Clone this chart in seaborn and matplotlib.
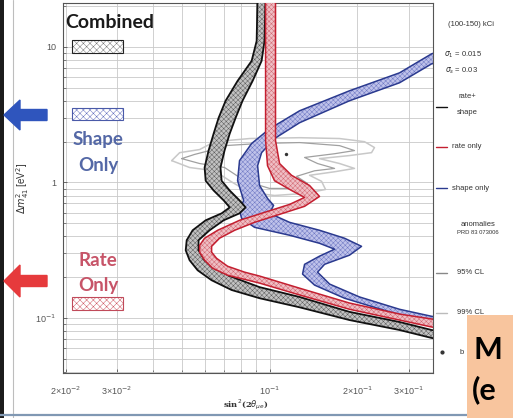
import numpy as np
import matplotlib
matplotlib.use("Agg")
import matplotlib.pyplot as plt
from matplotlib.patches import Rectangle, FancyArrow
from matplotlib.lines import Line2D
from matplotlib.ticker import NullFormatter
import seaborn as sns

# ---------------- exclusion bands (two edges each) ----------------
# rate + shape combined
comb_a_x = [0.0910, 0.0903, 0.0868, 0.0777, 0.0707, 0.0669, 0.0643, 0.0618, 0.0599, 0.0604,
            0.0643, 0.0696, 0.0730, 0.0685, 0.0604, 0.0545, 0.0520, 0.0516, 0.0532, 0.0567,
            0.0633, 0.0741, 0.0924, 0.1267, 0.1879, 0.2787, 0.3588, 0.484]
comb_a_y = [25, 11.07, 7.89, 5.62, 4.01, 3.00, 2.29, 1.72, 1.29, 1.03,
            0.873, 0.738, 0.655, 0.592, 0.526, 0.444, 0.375, 0.316, 0.267, 0.225,
            0.190, 0.161, 0.140, 0.120, 0.0966, 0.0816, 0.0713, 0.0633]
comb_b_x = [0.0969, 0.0961, 0.0939, 0.0875, 0.0808, 0.0765, 0.0730, 0.0701, 0.0679, 0.0685,
            0.0730, 0.0789, 0.0828, 0.0789, 0.0696, 0.0623, 0.0571, 0.0571, 0.0599, 0.0648,
            0.0730, 0.0924, 0.1267, 0.1879, 0.2787, 0.3588, 0.484]
comb_b_y = [25, 11.07, 7.89, 5.62, 4.01, 3.00, 2.29, 1.72, 1.29, 1.03,
            0.873, 0.738, 0.655, 0.592, 0.526, 0.444, 0.375, 0.316, 0.267, 0.233,
            0.204, 0.169, 0.143, 0.111, 0.0935, 0.0816, 0.0738]

# rate only
rate_a_x = [0.0969, 0.0969, 0.0984, 0.1040, 0.1189, 0.1318, 0.1171, 0.0961, 0.0789, 0.0664,
            0.0599, 0.0576, 0.0576, 0.0599, 0.0638, 0.0718, 0.0924, 0.1267, 0.1879, 0.2787,
            0.3588, 0.484]
rate_a_y = [25, 2.04, 1.33, 1.03, 0.873, 0.776, 0.689, 0.602, 0.526, 0.444,
            0.388, 0.344, 0.306, 0.267, 0.233, 0.207, 0.181, 0.148, 0.116, 0.0966,
            0.0859, 0.0776]
rate_b_x = [0.1048, 0.1048, 0.1082, 0.1189, 0.1371, 0.1483, 0.1318, 0.1082, 0.0888, 0.0759,
            0.0674, 0.0633, 0.0633, 0.0658, 0.0718, 0.0821, 0.0924, 0.1267, 0.1879, 0.2787,
            0.3588, 0.484]
rate_b_y = [25, 2.04, 1.38, 1.13, 0.950, 0.789, 0.667, 0.582, 0.508, 0.444,
            0.388, 0.338, 0.306, 0.276, 0.241, 0.218, 0.204, 0.166, 0.129, 0.107,
            0.0984, 0.0888]

# shape only
shape_a_x = [0.484, 0.3588, 0.2787, 0.1879, 0.1267, 0.1000, 0.0868, 0.0789, 0.0777, 0.0815,
             0.0789, 0.0802, 0.0888, 0.1171, 0.1483, 0.1670, 0.1483, 0.1318, 0.1297, 0.1426,
             0.1806, 0.2576, 0.3588, 0.484]
shape_a_y = [11.07, 8.89, 6.44, 4.75, 3.38, 2.49, 1.94, 1.45, 1.03, 0.738,
             0.622, 0.544, 0.467, 0.408, 0.356, 0.322, 0.286, 0.249, 0.211, 0.175,
             0.140, 0.111, 0.0919, 0.0844]
shape_b_x = [0.484, 0.3588, 0.2787, 0.1879, 0.1267, 0.1040, 0.0939, 0.0910, 0.0924, 0.0984,
             0.1032, 0.1000, 0.1171, 0.1483, 0.1806, 0.2066, 0.1879, 0.1543, 0.1460, 0.1606,
             0.2033, 0.2787, 0.3588, 0.484]
shape_b_y = [8.59, 7.50, 5.44, 4.01, 2.76, 2.11, 1.66, 1.33, 0.950, 0.763,
             0.678, 0.592, 0.508, 0.444, 0.388, 0.338, 0.291, 0.249, 0.218, 0.178,
             0.143, 0.116, 0.103, 0.0935]

# reactor-anomaly allowed regions
cl99_x = [0.0462, 0.0492, 0.0576, 0.0648, 0.0854, 0.1267, 0.1737, 0.2115, 0.2288, 0.2235,
          0.1879, 0.1483, 0.1737, 0.1954, 0.1670, 0.1371, 0.1507, 0.1555, 0.1318, 0.1040,
          0.0854, 0.0730, 0.0648, 0.0532]
cl99_y = [1.45, 1.66, 1.75, 2.00, 2.11, 2.14, 2.11, 2.00, 1.81, 1.66,
          1.58, 1.50, 1.38, 1.27, 1.20, 1.13, 1.02, 0.888, 0.830, 0.802,
          0.844, 1.03, 1.22, 1.29]
cl95_x = [0.0500, 0.0553, 0.0623, 0.0701, 0.0924, 0.1267, 0.1737, 0.1954, 0.1670, 0.1318,
          0.1460, 0.1670, 0.1426, 0.1237, 0.1349, 0.1267, 0.1000, 0.0821, 0.0701, 0.0576]
cl95_y = [1.50, 1.61, 1.72, 1.87, 1.94, 1.97, 1.87, 1.72, 1.63, 1.53,
          1.38, 1.27, 1.22, 1.11, 0.983, 0.904, 0.904, 1.03, 1.29, 1.38]
bestfit_x = [0.114]
bestfit_y = [1.63]

xtick_vals = [0.02, 0.03, 0.1, 0.2, 0.3]
xtick_labels = ["2×10$^{-2}$", "3×10$^{-2}$", "10$^{-1}$", "2×10$^{-1}$", "3×10$^{-1}$"]
ytick_vals = [0.1, 1, 10]
ytick_labels = ["10$^{-1}$", "1", "10"]

# ---------------- figure ----------------
W, H = 513, 418
sns.set_theme(style="white")
plt.rcParams["font.family"] = ["Liberation Sans", "DejaVu Sans"]
plt.rcParams["hatch.linewidth"] = 0.35

fig = plt.figure(figsize=(W / 100, H / 100), dpi=100)
fig.patch.set_facecolor("white")


def fx(px):
    return px / W


def fy(py):
    return 1 - py / H


ax = fig.add_axes([fx(63), fy(373), (433 - 63) / W, (373 - 3) / H])
ax.set_xscale("log")
ax.set_yscale("log")
ax.set_facecolor("white")


def closed(v):
    return list(v) + list(v[:1])


# anomaly contours
sns.lineplot(x=closed(cl99_x), y=closed(cl99_y), sort=False, estimator=None,
             color="#c8c8c8", linewidth=1.1, ax=ax, zorder=1)
sns.lineplot(x=closed(cl95_x), y=closed(cl95_y), sort=False, estimator=None,
             color="#a0a0a0", linewidth=0.9, ax=ax, zorder=1)


def band(xa, ya, xb, yb, face, hatch_col, edge, lw, z):
    px = list(xa) + list(xb)[::-1]
    py = list(ya) + list(yb)[::-1]
    ax.fill(px, py, facecolor=face, edgecolor=hatch_col, hatch="xxxxxxx",
            linewidth=0, zorder=z)
    for xs, ys in ((xa, ya), (xb, yb)):
        sns.lineplot(x=xs, y=ys, sort=False, estimator=None, color=edge,
                     linewidth=lw, ax=ax, zorder=z + 0.5)


band(shape_a_x, shape_a_y, shape_b_x, shape_b_y, "#bfc2ea", "#6f79c4", "#2b3a8f", 1.1, 2)
band(comb_a_x, comb_a_y, comb_b_x, comb_b_y, "#c2c2c2", "#5e5e5e", "#111111", 1.3, 3)
band(rate_a_x, rate_a_y, rate_b_x, rate_b_y, "#efbfc5", "#d26872", "#c41f30", 1.1, 4)

sns.scatterplot(x=bestfit_x, y=bestfit_y, color="#333333", s=6, linewidth=0, ax=ax, zorder=6)

ax.set_xlim(0.0196, 0.363)
ax.set_ylim(0.0393, 21.1)
ax.set_xticks(xtick_vals, labels=xtick_labels)
ax.set_yticks(ytick_vals, labels=ytick_labels)
ax.xaxis.set_minor_formatter(NullFormatter())
ax.yaxis.set_minor_formatter(NullFormatter())
ax.set_xlabel("")
ax.set_ylabel("")
ax.grid(True, which="both", color="#c9c9c9", linewidth=0.6)
ax.set_axisbelow(True)
ax.tick_params(which="both", direction="in", color="#555555", labelcolor="#555555",
               labelsize=6.5, bottom=True, left=True)
ax.tick_params(which="major", length=3, width=0.6)
ax.tick_params(which="minor", length=2, width=0.5)
ax.tick_params(axis="x", pad=8)
ax.tick_params(axis="y", pad=5)
for s in ax.spines.values():
    s.set_color("#555555")
    s.set_linewidth(0.8)

# axis titles
fig.text(fx(23), fy(188), r"$\Delta m^2_{41}$ [eV$^2$]", rotation=90, ha="center",
         va="center", fontsize=7, color="#333333")
fig.text(fx(246), fy(405), r"sin$^2$(2$\theta_{\mu e}$)", ha="center", va="center",
         fontsize=6, color="#333333", family="DejaVu Serif", fontweight="bold")

# in-plot labels
fig.text(fx(65), fy(22), "Combined", ha="left", va="center", fontsize=14,
         fontweight="bold", family="Lato", color="#1a1a1a")
fig.text(fx(98), fy(140), "Shape", ha="center", va="center", fontsize=13.5,
         family="Lato", color="#5468a6", fontweight="bold")
fig.text(fx(98), fy(165), "Only", ha="center", va="center", fontsize=13.5,
         family="Lato", color="#5468a6", fontweight="bold")
fig.text(fx(98), fy(260), "Rate", ha="center", va="center", fontsize=13.5,
         family="Lato", color="#c75468", fontweight="bold")
fig.text(fx(98), fy(285), "Only", ha="center", va="center", fontsize=13.5,
         family="Lato", color="#c75468", fontweight="bold")

for (y0, y1, ec, hc) in ((40, 53, "#222222", "#777777"),
                         (108, 120, "#4a5aa8", "#6470bf"),
                         (297, 310, "#c04a5a", "#cf5a66")):
    fig.add_artist(Rectangle((fx(72), fy(y1)), (123 - 72) / W, (y1 - y0) / H,
                             transform=fig.transFigure, facecolor="white",
                             edgecolor=hc, hatch="xxxxx", linewidth=0, zorder=4))
    fig.add_artist(Rectangle((fx(72), fy(y1)), (123 - 72) / W, (y1 - y0) / H,
                             transform=fig.transFigure, facecolor="none",
                             edgecolor=ec, linewidth=0.8, zorder=4.1))

# side panel legend
small = dict(fontsize=5.5, color="#333333", family="Liberation Sans", va="center")
fig.text(fx(471), fy(25), "(100-150) kCi", ha="center", **small)
fig.text(fx(463), fy(55), r"$\sigma_1$ = 0.015", ha="center", **small)
fig.text(fx(462), fy(71), r"$\sigma_s$ = 0.03", ha="center", **small)
for (yy, col) in ((107, "#111111"), (147, "#c41f30"), (188, "#2b3a8f"),
                  (273, "#888888"), (313, "#bbbbbb")):
    fig.add_artist(Line2D([fx(436), fx(447)], [fy(yy), fy(yy)], color=col, lw=1.0,
                          transform=fig.transFigure))
fig.text(fx(467), fy(97), "rate+", ha="center", **small)
fig.text(fx(467), fy(112), "shape", ha="center", **small)
fig.text(fx(452), fy(147), "rate only", ha="left", **small)
fig.text(fx(452), fy(188), "shape only", ha="left", **small)
fig.text(fx(478), fy(224), "anomalies", ha="center", **small)
fig.text(fx(478), fy(232), "PRD 83 073006", ha="center", fontsize=4.2, color="#333333",
         family="Liberation Sans", va="center")
fig.text(fx(457), fy(273), "95% CL", ha="left", **small)
fig.text(fx(457), fy(313), "99% CL", ha="left", **small)
fig.add_artist(Line2D([fx(442)], [fy(352)], marker="o", markersize=2, color="#333333",
                      transform=fig.transFigure))
fig.text(fx(460), fy(352), "b", ha="left", **small)

# slide furniture
fig.add_artist(Rectangle((0, 0), 4 / W, 1, transform=fig.transFigure,
                         facecolor="#1c1c1c", edgecolor="none", zorder=5))
fig.add_artist(Line2D([fx(13), fx(13)], [fy(418), fy(0)], color="#bdbdbd", lw=0.8,
                      transform=fig.transFigure))
fig.add_artist(Line2D([0, 1], [fy(415), fy(415)], color="#8098b3", lw=1.6,
                      transform=fig.transFigure, zorder=5))
fig.add_artist(FancyArrow(fx(47), fy(115), -(47 - 4) / W, 0, width=11 / H,
                          head_width=30 / H, head_length=16 / W,
                          length_includes_head=True, transform=fig.transFigure,
                          color="#2f55bd", zorder=6))
fig.add_artist(FancyArrow(fx(47), fy(281), -(47 - 4) / W, 0, width=11 / H,
                          head_width=32 / H, head_length=16 / W,
                          length_includes_head=True, transform=fig.transFigure,
                          color="#e63a3c", zorder=6))
fig.add_artist(Rectangle((fx(467), 0), (W - 467) / W, (H - 315) / H,
                         transform=fig.transFigure, facecolor="#f8c59e",
                         edgecolor="none", zorder=7))
fig.text(fx(474), fy(350), "M", ha="left", va="center", fontsize=22, fontweight="bold",
         family="Lato", color="black", zorder=8)
fig.text(fx(472), fy(390), "(e", ha="left", va="center", fontsize=22, fontweight="bold",
         family="Lato", color="black", zorder=8)

fig.savefig("out.png", dpi=100)
